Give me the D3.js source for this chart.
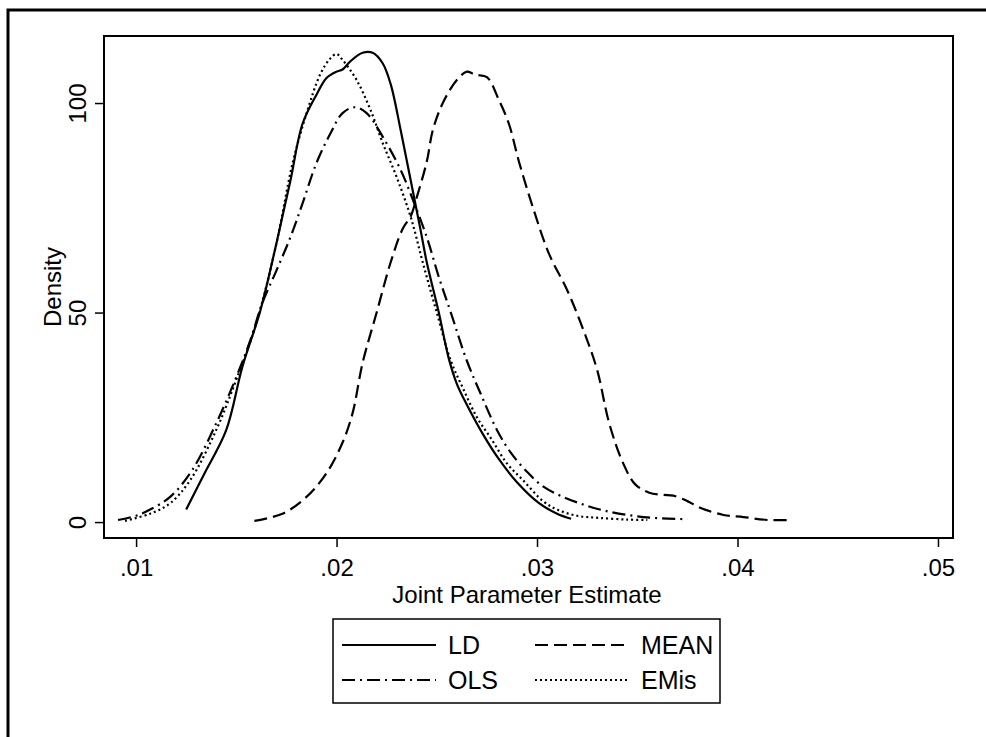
<!DOCTYPE html>
<html>
<head>
<meta charset="utf-8">
<script src="https://cdn.jsdelivr.net/npm/d3@7.9.0/dist/d3.min.js"></script>
<style>
  body { margin: 0; background: #fff; }
  svg { display: block; font-family: "Liberation Sans", Arial, Helvetica, sans-serif; }
</style>
</head>
<body>
<svg id="chart" width="986" height="737"></svg>
<script>
// Density estimates: [estimate, density]
const ldPoints = [
  [0.0125, 3], [0.0134, 11.5], [0.0145, 22], [0.0153, 37], [0.0162, 50.5],
  [0.0170, 66.5], [0.0177, 81.5], [0.0183, 95], [0.0190, 102], [0.0195, 106],
  [0.0200, 107.5], [0.0203, 108], [0.0207, 110], [0.0213, 112], [0.0218, 112],
  [0.0223, 109.5], [0.0227, 104.5], [0.0232, 93.5], [0.0237, 81.5], [0.0242, 69.5],
  [0.0245, 62], [0.0251, 50], [0.0256, 39], [0.0260, 33], [0.0265, 28],
  [0.0273, 21], [0.0281, 15], [0.0290, 9.5], [0.0301, 4.5], [0.0310, 2], [0.0317, 0.8]
];
const meanPoints = [
  [0.0159, 0.3], [0.0173, 2], [0.0185, 6], [0.0195, 11.7], [0.0203, 19],
  [0.0208, 26], [0.0213, 38], [0.0220, 50], [0.0227, 62], [0.0233, 70],
  [0.0237, 73], [0.0240, 77.5], [0.0245, 86], [0.0248, 93.5], [0.0253, 100],
  [0.0260, 105.5], [0.0265, 107.5], [0.0268, 107], [0.0270, 106.7], [0.0275, 106.2],
  [0.0281, 100.7], [0.0286, 95], [0.0291, 86], [0.0298, 75], [0.0306, 64],
  [0.0315, 55.4], [0.0323, 46], [0.0330, 36.3], [0.0336, 23.6], [0.0343, 14],
  [0.0349, 9], [0.0356, 7], [0.0363, 6.5], [0.0368, 6.3], [0.0375, 5],
  [0.0381, 3.5], [0.0393, 1.7], [0.0403, 1.2], [0.0415, 0.5], [0.0426, 0.5]
];
const olsPoints = [
  [0.0091, 0.5], [0.0100, 1.5], [0.0107, 3], [0.0117, 6], [0.0128, 12.4],
  [0.0140, 23.6], [0.0150, 34.6], [0.0157, 43.4], [0.0163, 52.3], [0.0170, 60],
  [0.0177, 68], [0.0183, 76], [0.0190, 85.7], [0.0197, 92.8], [0.0203, 97.6],
  [0.0209, 99], [0.0215, 97.6], [0.0223, 92], [0.0232, 84], [0.0238, 77],
  [0.0245, 68], [0.0251, 58.5], [0.0257, 50], [0.0265, 38.5], [0.0272, 30.5],
  [0.0280, 22], [0.0287, 16.5], [0.0295, 12], [0.0303, 8.5], [0.0313, 6],
  [0.0323, 4.2], [0.0333, 2.8], [0.0345, 1.7], [0.0358, 1], [0.0375, 0.7]
];
const emisPoints = [
  [0.00945, 0.3], [0.0107, 2], [0.0117, 4.5], [0.0127, 10], [0.0140, 22],
  [0.0150, 34], [0.0160, 47.5], [0.0170, 66.5], [0.0178, 85.5], [0.0185, 97.5],
  [0.0192, 107], [0.0197, 110.7], [0.0200, 111.7], [0.0203, 110.3], [0.0210, 105.5],
  [0.0217, 98.3], [0.0223, 90.5], [0.0230, 82.3], [0.0237, 72.8], [0.0243, 62],
  [0.0250, 50], [0.0257, 38.5], [0.0263, 32], [0.0270, 25], [0.0277, 20],
  [0.0285, 14], [0.0293, 10], [0.0303, 5], [0.0310, 3], [0.0320, 1.5],
  [0.0331, 1], [0.0345, 0.6], [0.0355, 0.5]
];

const xTicks = [0.01, 0.02, 0.03, 0.04, 0.05];
const yTicks = [0, 50, 100];
const seriesNames = ['LD', 'MEAN', 'OLS', 'EMis'];

const styles = {
  LD: { dash: null, data: ldPoints },
  MEAN: { dash: '13,6', data: meanPoints },
  OLS: { dash: '13,5,2,5', data: olsPoints },
  EMis: { dash: '2,3', data: emisPoints }
};

const svg = d3.select('#chart');

// outer frame (only top and left visible)
svg.append('path')
  .attr('d', 'M8,737 L8,10 L986,10')
  .attr('fill', 'none')
  .attr('stroke', '#000')
  .attr('stroke-width', 3);

const plot = { left: 104, right: 953, top: 36, bottom: 538 };

const x = d3.scaleLinear().domain([0.0084, 0.05075]).range([plot.left, plot.right]);
const y = d3.scaleLinear().domain([-3.8, 116]).range([plot.bottom, plot.top]);

// plot region box
svg.append('rect')
  .attr('x', plot.left).attr('y', plot.top)
  .attr('width', plot.right - plot.left).attr('height', plot.bottom - plot.top)
  .attr('fill', 'none').attr('stroke', '#000').attr('stroke-width', 2);

// x axis
const xAxis = svg.append('g')
  .attr('transform', `translate(0,${plot.bottom})`)
  .call(d3.axisBottom(x).tickValues(xTicks).tickSize(9).tickPadding(12)
    .tickFormat(d => d3.format('.2f')(d).replace(/^0/, '')));
xAxis.select('.domain').remove();
xAxis.selectAll('line').attr('stroke-width', 1.5);
xAxis.selectAll('text').attr('font-size', 24).attr('fill', '#000')
  .attr('font-family', null);

// y axis with rotated labels
const yAxis = svg.append('g')
  .attr('transform', `translate(${plot.left},0)`)
  .call(d3.axisLeft(y).tickValues(yTicks).tickSize(9).tickFormat(d3.format('d')));
yAxis.select('.domain').remove();
yAxis.selectAll('line').attr('stroke-width', 1.5);
yAxis.selectAll('text')
  .attr('font-size', 24).attr('fill', '#000').attr('font-family', null)
  .attr('x', null).attr('dy', null)
  .attr('text-anchor', 'middle')
  .attr('transform', 'translate(-18,0) rotate(-90)');

// axis titles
svg.append('text')
  .attr('transform', 'translate(61,287) rotate(-90)')
  .attr('text-anchor', 'middle')
  .attr('font-size', 24)
  .text('Density');

svg.append('text')
  .attr('x', 527).attr('y', 603)
  .attr('text-anchor', 'middle')
  .attr('font-size', 24)
  .text('Joint Parameter Estimate');

// density curves
const line = d3.line()
  .x(d => x(d[0]))
  .y(d => y(d[1]))
  .curve(d3.curveCatmullRom.alpha(0.5));

seriesNames.forEach(name => {
  svg.append('path')
    .datum(styles[name].data)
    .attr('d', line)
    .attr('fill', 'none')
    .attr('stroke', '#000')
    .attr('stroke-width', 2.2)
    .attr('stroke-dasharray', styles[name].dash);
});

// legend
const legend = svg.append('g');
legend.append('rect')
  .attr('x', 333).attr('y', 619).attr('width', 387).attr('height', 84)
  .attr('fill', 'none').attr('stroke', '#000').attr('stroke-width', 1.5);

const legendSlots = [
  { col: 0, row: 0 }, { col: 1, row: 0 }, { col: 0, row: 1 }, { col: 1, row: 1 }
];
seriesNames.forEach((name, i) => {
  const slot = legendSlots[i];
  const lx = 342 + slot.col * 193;
  const ly = 645 + slot.row * 35;
  legend.append('line')
    .attr('x1', lx).attr('x2', lx + 94)
    .attr('y1', ly).attr('y2', ly)
    .attr('stroke', '#000').attr('stroke-width', 2)
    .attr('stroke-dasharray', styles[name].dash);
  legend.append('text')
    .attr('x', lx + 106).attr('y', ly + 9)
    .attr('font-size', 25)
    .text(name);
});
</script>
</body>
</html>
